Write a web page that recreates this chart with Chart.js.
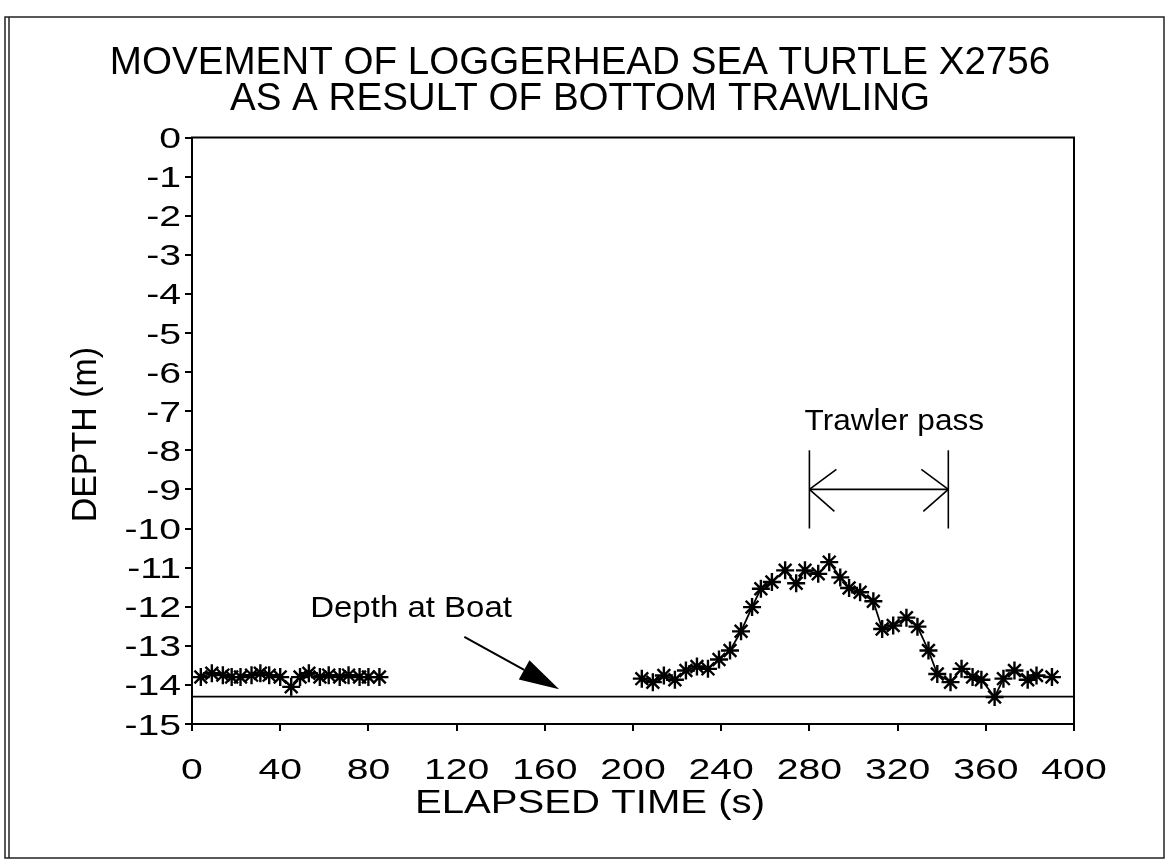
<!DOCTYPE html>
<html>
<head>
<meta charset="utf-8">
<title>Movement of loggerhead sea turtle X2756</title>
<script src="https://cdn.jsdelivr.net/npm/chart.js@4.4.1/dist/chart.umd.min.js"></script>
<style>
  html, body { margin: 0; padding: 0; background: #fff; }
  #wrap { position: relative; width: 1168px; height: 867px; }
  canvas { display: block; }
</style>
</head>
<body>
<div id="wrap"><canvas id="c" width="1168" height="867"></canvas></div>
<script>
// Depth record before the trawler arrives (elapsed time in s, depth in m)
const earlyTime  = [4, 9, 14, 18, 22, 27, 31, 35, 40, 45, 49, 53, 58, 62, 67, 71, 76, 80, 85];
const earlyDepth = [-13.8, -13.7, -13.75, -13.8, -13.8, -13.75, -13.7, -13.75, -13.8, -14.05,
                    -13.8, -13.7, -13.8, -13.75, -13.8, -13.75, -13.8, -13.8, -13.8];

// Depth record while the trawler passes and afterwards
const lateTime  = [204, 209, 214, 219, 224, 229, 234, 239, 244, 249, 254, 258, 263, 269, 274, 278,
                   284, 289, 294, 298, 303, 309, 313, 318, 324, 329, 334, 338, 344, 349, 354, 358,
                   364, 368, 373, 379, 383, 390];
const lateDepth = [-13.84, -13.93, -13.76, -13.87, -13.63, -13.53, -13.59, -13.35, -13.12, -12.63,
                   -12.01, -11.54, -11.37, -11.07, -11.40, -11.07, -11.16, -10.86, -11.25, -11.52,
                   -11.63, -11.86, -12.57, -12.48, -12.28, -12.51, -13.12, -13.72, -13.93, -13.59,
                   -13.80, -13.87, -14.31, -13.84, -13.63, -13.87, -13.76, -13.80];

// Sea floor depth at the boat
const boatDepth = -14.3;

// Axis tick labels
const xTicks = [0, 40, 80, 120, 160, 200, 240, 280, 320, 360, 400];
const yTicks = [0, -1, -2, -3, -4, -5, -6, -7, -8, -9, -10, -11, -12, -13, -14, -15];

// Trawler pass interval (s)
const trawlerStart = 280;
const trawlerEnd = 343;

const FONT = '"Liberation Sans", Arial, Helvetica, sans-serif';

function toPoints(xs, ys) {
  return xs.map((x, i) => ({ x: x, y: ys[i] }));
}

function drawText(ctx, str, x, y, size, sx, align, baseline) {
  ctx.save();
  ctx.font = size + 'px ' + FONT;
  ctx.fillStyle = '#000';
  ctx.textAlign = align;
  ctx.textBaseline = baseline;
  ctx.translate(x, y);
  ctx.scale(sx, 1);
  ctx.fillText(str, 0, 0);
  ctx.restore();
}

function line(ctx, x1, y1, x2, y2) {
  ctx.beginPath();
  ctx.moveTo(x1, y1);
  ctx.lineTo(x2, y2);
  ctx.stroke();
}

const decorations = {
  id: 'decorations',
  beforeDraw(chart) {
    const ctx = chart.ctx;
    ctx.save();
    ctx.fillStyle = '#fff';
    ctx.fillRect(0, 0, chart.width, chart.height);
    // page frame
    ctx.strokeStyle = '#222';
    ctx.lineWidth = 1.5;
    ctx.strokeRect(5, 17, 1159, 841);
    line(ctx, 9, 17, 9, 858);
    ctx.restore();
  },
  afterDraw(chart) {
    const ctx = chart.ctx;
    const xs = chart.scales.x, ys = chart.scales.y;
    const a = chart.chartArea;
    ctx.save();
    ctx.strokeStyle = '#000';
    ctx.fillStyle = '#000';

    // closing frame of the plot area
    ctx.lineWidth = 2;
    ctx.strokeRect(a.left, a.top, a.right - a.left, a.bottom - a.top);

    // title
    drawText(ctx, 'MOVEMENT OF LOGGERHEAD SEA TURTLE X2756', 580, 74, 38.6, 1, 'center', 'alphabetic');
    drawText(ctx, 'AS A RESULT OF BOTTOM TRAWLING', 580, 110, 38.6, 1, 'center', 'alphabetic');

    // tick labels
    xTicks.forEach(v => {
      drawText(ctx, String(v), xs.getPixelForValue(v), 779, 29, 1.35, 'center', 'alphabetic');
    });
    yTicks.forEach(v => {
      const label = v === 0 ? '0' : '-' + Math.abs(v);
      drawText(ctx, label, 181, ys.getPixelForValue(v) + 10.5, 29, 1.35, 'right', 'alphabetic');
    });

    // axis titles
    drawText(ctx, 'ELAPSED TIME (s)', 590, 813, 34, 1.18, 'center', 'alphabetic');
    ctx.save();
    ctx.translate(96, ys.getPixelForValue(-7.6));
    ctx.rotate(-Math.PI / 2);
    drawText(ctx, 'DEPTH (m)', 0, 0, 35, 0.97, 'center', 'alphabetic');
    ctx.restore();

    // trawler pass bracket
    ctx.lineWidth = 1.6;
    const bx1 = xs.getPixelForValue(trawlerStart);
    const bx2 = xs.getPixelForValue(trawlerEnd);
    const top = ys.getPixelForValue(-8);
    const bot = ys.getPixelForValue(-10);
    const mid = ys.getPixelForValue(-9);
    line(ctx, bx1, top, bx1, bot);
    line(ctx, bx2, top, bx2, bot);
    line(ctx, bx1, mid, bx2, mid);
    line(ctx, bx1, mid, bx1 + 27, mid - 20);
    line(ctx, bx1, mid, bx1 + 25, mid + 22);
    line(ctx, bx2, mid, bx2 - 27, mid - 20);
    line(ctx, bx2, mid, bx2 - 25, mid + 22);
    drawText(ctx, 'Trawler pass', xs.getPixelForValue(277.8), ys.getPixelForValue(-7.48), 29.5, 1.07, 'left', 'alphabetic');

    // depth at boat pointer
    drawText(ctx, 'Depth at Boat', xs.getPixelForValue(53.6), ys.getPixelForValue(-12.26), 30, 1.1, 'left', 'alphabetic');
    const sx0 = xs.getPixelForValue(123.5), sy0 = ys.getPixelForValue(-12.77);
    const tx = xs.getPixelForValue(166.5), ty = ys.getPixelForValue(-14.11);
    ctx.lineWidth = 2;
    const ang = Math.atan2(ty - sy0, tx - sx0);
    const headLen = 40, headHalf = 11;
    const bxh = tx - headLen * Math.cos(ang), byh = ty - headLen * Math.sin(ang);
    line(ctx, sx0, sy0, bxh, byh);
    ctx.beginPath();
    ctx.moveTo(tx, ty);
    ctx.lineTo(bxh + headHalf * Math.sin(ang), byh - headHalf * Math.cos(ang));
    ctx.lineTo(bxh - headHalf * Math.sin(ang), byh + headHalf * Math.cos(ang));
    ctx.closePath();
    ctx.fill();
    ctx.restore();
  }
};

const seriesStyle = {
  showLine: true,
  borderColor: '#000',
  borderWidth: 1.8,
  pointStyle: 'star',
  pointRadius: 9,
  pointBorderWidth: 2.4,
  pointBorderColor: '#000',
  pointBackgroundColor: '#000',
  tension: 0,
  fill: false
};

const axisGrid = {
  drawOnChartArea: false,
  drawTicks: true,
  tickLength: 7,
  color: '#000',
  lineWidth: 2
};

new Chart(document.getElementById('c'), {
  type: 'scatter',
  data: {
    datasets: [
      Object.assign({ label: 'Turtle depth (before)', data: toPoints(earlyTime, earlyDepth) }, seriesStyle),
      Object.assign({ label: 'Turtle depth (trawl)', data: toPoints(lateTime, lateDepth) }, seriesStyle),
      {
        label: 'Depth at Boat',
        data: toPoints([0, 400], [boatDepth, boatDepth]),
        showLine: true,
        borderColor: '#000',
        borderWidth: 1.8,
        pointRadius: 0
      }
    ]
  },
  options: {
    responsive: false,
    animation: false,
    events: [],
    layout: { padding: { left: 0, top: 137.5, right: 94, bottom: 0 } },
    plugins: {
      legend: { display: false },
      tooltip: { enabled: false },
      title: { display: false }
    },
    scales: {
      x: {
        type: 'linear',
        min: 0,
        max: 400,
        afterFit(scale) { scale.height = 867 - 724; },
        ticks: { display: false, stepSize: 40 },
        grid: axisGrid,
        border: { display: true, color: '#000', width: 2 }
      },
      y: {
        type: 'linear',
        min: -15,
        max: 0,
        afterFit(scale) { scale.width = 192; },
        ticks: { display: false, stepSize: 1 },
        grid: axisGrid,
        border: { display: true, color: '#000', width: 2 }
      }
    }
  },
  plugins: [decorations]
});
</script>
</body>
</html>
